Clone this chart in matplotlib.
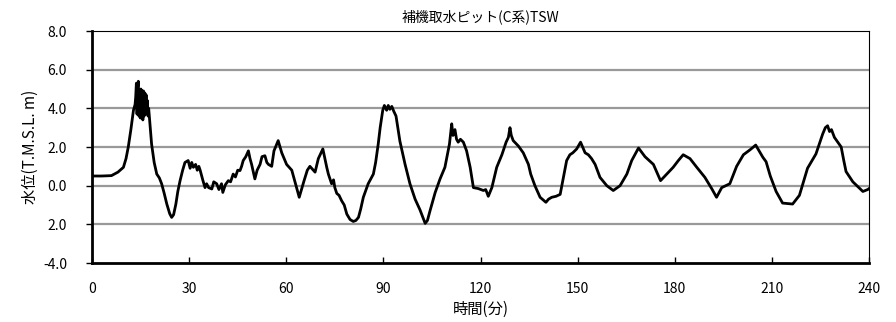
import numpy as np
import matplotlib
matplotlib.use("Agg")
import matplotlib.pyplot as plt

plt.rcParams['font.family'] = ['Noto Sans CJK JP', 'DejaVu Sans']

# 時間(分) / 水位 の読み取り値
t = [0, 3, 6, 8, 9.7, 10.5, 11.2, 12, 12.8, 13.3, 13.5, 13.7, 13.9, 14.1, 14.3, 14.5,
     14.7, 14.9, 15.1, 15.3, 15.5, 15.7, 15.9, 16.1, 16.3, 16.5, 16.7, 16.9, 17.1, 17.3,
     17.5, 18.0, 18.4, 19.2, 20, 20.8, 21.5, 22.3, 23.1, 24.0,
     24.6, 25.2, 25.9, 26.5, 27.2, 28.0, 28.7, 29.7, 30.3, 30.8, 31.3, 32.0, 32.5, 33.0,
     33.4, 34.2, 34.9, 35.4, 36.0, 37.0, 37.6, 38.5, 39.2, 40.0, 40.4, 41.2, 42.1, 42.8,
     43.6, 44.3, 45.0, 45.7, 46.2, 46.7, 47.5, 48.3, 48.8, 49.3, 50.3, 51.0, 51.9, 52.5,
     53.4, 54.0, 54.5, 55.5, 56.2, 57.5, 58.6, 60.1, 61.7, 63.2, 64.0, 65.5, 66.5, 67.3,
     68.9, 69.9, 71.3, 72.5, 73.0, 74.0, 74.6, 75.0, 75.6, 76.3, 77.1, 77.9, 78.7, 79.7,
     80.7, 81.5, 82.3, 83.0, 83.8, 85.3, 86.9, 87.6, 88.4, 89.0, 89.8, 90.3, 91.0, 91.5,
     92.0, 92.6, 93.2, 93.9, 95.1, 96.7, 98.2, 99.8, 101.3, 102.9, 103.6, 104.4, 106.0,
     107.5, 109.0, 110.4, 111.1, 111.5, 112.1, 112.6, 113.1, 113.8, 114.7, 115.7, 116.8,
     117.8, 119.3, 120.9, 121.6, 122.4, 123.5, 125.0, 126.6, 127.9, 128.6, 129.1, 129.5,
     130.1, 131.7, 133.2, 134.8, 135.5, 136.8, 138.4, 140.2, 141.0, 142.0, 143.3, 144.6,
     145.6, 146.6, 147.6, 148.5, 149.7, 150.9, 152.3, 153.3, 154.3, 155.4, 156.9, 159.0,
     161.0, 163.1, 165.2, 166.7, 168.8, 170.8, 173.4, 175.6, 177.5, 179.5, 181.1, 182.6,
     184.7, 186.8, 189.3, 191.4, 192.9, 194.5, 197.0, 199.1, 201.2, 203.2, 205.0, 207.2,
     208.2, 209.5, 211.3, 213.3, 216.4, 218.5, 221.0, 223.6, 225.7, 226.5, 227.2, 227.8,
     228.4, 229.3, 231.4, 232.2, 232.9, 235.0, 238.1, 239.6, 240]
level = [0.5, 0.5, 0.52, 0.7, 0.95, 1.4, 2.0, 2.9, 3.9, 4.2, 4.6, 5.3, 3.7, 5.1, 5.4, 3.6,
         4.9, 3.5, 5.0, 3.8, 4.9, 3.4, 4.9, 3.6, 4.8, 3.7, 4.7, 3.8, 4.4, 3.6,
         4.0, 3.0, 2.15, 1.2, 0.6, 0.4, 0.1, -0.4, -0.95, -1.45,
         -1.64, -1.5, -0.95, -0.3, 0.26, 0.8, 1.2, 1.3, 0.9, 1.2, 0.95, 1.1, 0.8, 1.0,
         0.8, 0.3, -0.1, 0.1, -0.1, -0.17, 0.2, 0.1, -0.2, 0.1, -0.35, 0.05, 0.26, 0.2,
         0.6, 0.45, 0.8, 0.78, 1.0, 1.3, 1.5, 1.8, 1.4, 1.1, 0.35, 0.8, 1.1, 1.5,
         1.55, 1.2, 1.1, 1.0, 1.8, 2.33, 1.7, 1.1, 0.8, -0.1, -0.6, 0.26, 0.8, 1.0,
         0.7, 1.4, 1.9, 0.95, 0.6, 0.1, 0.3, -0.1, -0.4, -0.5, -0.78, -1.0, -1.47, -1.75,
         -1.85, -1.8, -1.64, -1.2, -0.6, 0.1, 0.6, 1.2, 2.15, 3.0, 3.9, 4.15, 3.9, 4.15,
         3.95, 4.1, 3.85, 3.6, 2.3, 1.1, 0.1, -0.7, -1.25, -1.95, -1.8, -1.3, -0.35,
         0.35, 0.95, 2.15, 3.2, 2.6, 2.9, 2.4, 2.25, 2.4, 2.25, 1.8, 0.95,
         -0.1, -0.15, -0.25, -0.2, -0.55, -0.1, 0.95, 1.6, 2.25, 2.5, 3.0, 2.6,
         2.33, 2.05, 1.7, 1.1, 0.6, 0.0, -0.6, -0.86, -0.7, -0.6, -0.55, -0.45,
         0.43, 1.3, 1.6, 1.7, 1.9, 2.25, 1.7, 1.6, 1.4, 1.1, 0.43, 0.0,
         -0.25, 0.0, 0.6, 1.3, 1.95, 1.5, 1.1, 0.26, 0.6, 0.95, 1.3, 1.6,
         1.4, 0.95, 0.43, -0.15, -0.6, -0.1, 0.1, 1.0, 1.6, 1.85, 2.1, 1.47,
         1.24, 0.5, -0.3, -0.9, -0.95, -0.5, 0.9, 1.64, 2.68, 3.0, 3.1, 2.8,
         2.9, 2.5, 2.0, 1.3, 0.73, 0.2, -0.3, -0.2, -0.15]

xticks = [0, 30, 60, 90, 120, 150, 180, 210, 240]
yticks = [-4, -2, 0, 2, 4, 6, 8]
ytick_labels = ['-4.0', '2.0', '0.0', '2.0', '4.0', '6.0', '8.0']

fig = plt.figure(figsize=(8.96, 3.22), dpi=100)
ax = fig.add_axes([0.1027, 0.1832, 0.8672, 0.7205])

for v in yticks[1:-1]:
    ax.axhline(v, color='#999999', lw=1.6, zorder=1)

ax.plot(t, level, color='black', lw=2.0, zorder=3)

ax.set_xlim(0, 240)
ax.set_ylim(-4, 8)
ax.set_xticks(xticks)
ax.set_yticks(yticks)
ax.set_yticklabels(ytick_labels)
ax.tick_params(axis='x', direction='in', length=4, width=1, pad=14, labelsize=10)
ax.tick_params(axis='y', direction='out', length=4, width=1, pad=14, labelsize=10)

for s in ['left', 'bottom']:
    ax.spines[s].set_linewidth(2)
for s in ['top', 'right']:
    ax.spines[s].set_linewidth(0.8)

ax.set_title('補機取水ピット(C系)TSW', fontsize=10, pad=7)
ax.set_xlabel('時間(分)', fontsize=11, labelpad=3)
ax.set_ylabel('水位(T.M.S.L. m)', fontsize=11, labelpad=3)

fig.savefig('out.png', dpi=100)
